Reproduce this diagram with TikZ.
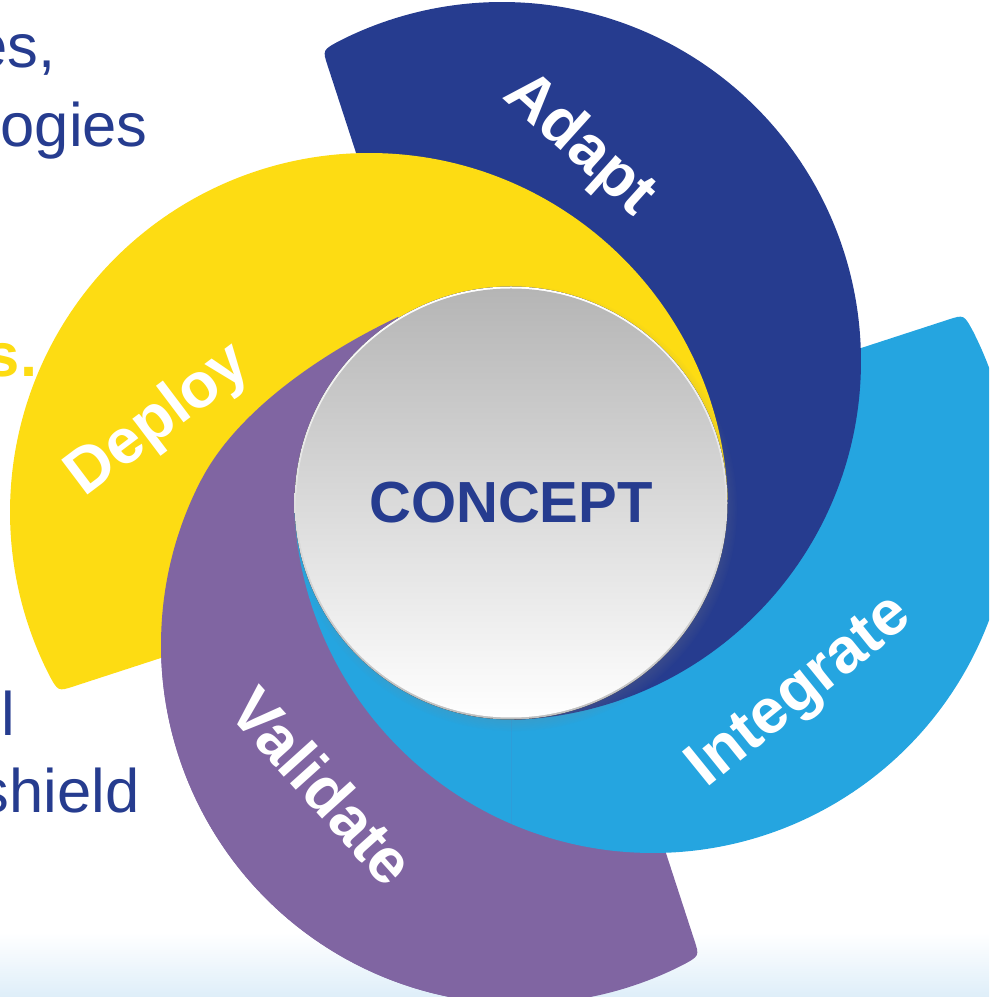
\documentclass[tikz,border=0pt]{standalone}
\usepackage{fontspec}
\setmainfont{Liberation Sans}
\usetikzlibrary{shadows}

\definecolor{adaptblue}{RGB}{38,60,143}
\definecolor{integrateblue}{RGB}{37,165,224}
\definecolor{validatepurple}{RGB}{128,101,162}
\definecolor{deployyellow}{RGB}{253,220,19}
\definecolor{haze}{RGB}{222,238,249}

% one swirl blade: drawn for the top one, rotated for the others
\newcommand{\blade}[2]{%
	\fill[#2, rotate=#1] (0.035,-2.168) arc[start angle=-88, end angle=117, radius=3.59]
	.. controls (-1.885,4.529) .. (-1.832,4.368) -- (-0.41,0) -- cycle;}

\begin{document}
\begin{tikzpicture}[
		bladetext/.style={text=white, font=\bfseries\fontsize{18}{20}\selectfont, inner sep=0pt},
		sidetext/.style={text=adaptblue, font=\fontsize{17.5}{20}\selectfont, inner sep=0pt}]
	\useasboundingbox (-5.11,-4.94) rectangle (4.78,5.03);
	\clip (-5.11,-4.94) rectangle (4.78,5.03);
	\shade[top color=white, bottom color=haze] (-5.11,-4.94) rectangle (4.78,-4.3);

	% each blade lies on top of the one before it
	\foreach \ang/\col in {180/validatepurple, -90/integrateblue, 0/adaptblue, 90/deployyellow} {
			\blade{\ang}{\col}
		}
	% left half: purple over yellow, light blue over purple
	\begin{scope}
		\clip (0,-5.1) -- (0,0) -- (-1.13,1.86) .. controls (-1.85,1.52) and (-2.73,0.94) .. (-3.098,0.23)
		-- (-5.2,0.23) -- (-5.2,-5.1) -- cycle;
		\foreach \ang/\col in {180/validatepurple, -90/integrateblue} {
				\blade{\ang}{\col}
			}
	\end{scope}

	% centre disc
	\fill[circular drop shadow={shadow xshift=0.03cm, shadow yshift=-0.05cm, opacity=0.5, shadow scale=1.03},
		top color=white, bottom color=black!25] (0,0) circle (2.165);
	\node[circle, minimum size=4.29cm, inner sep=0pt, top color=black!29, middle color=black!21, bottom color=white,
		text=adaptblue, font=\bfseries\fontsize{16.5}{18}\selectfont] (concept) at (0,0) {CONCEPT};

	\node[bladetext, rotate=-42] (adapt) at (0.68,3.58) {Adapt};
	\node[bladetext, rotate=39] (integrate) at (2.90,-1.90) {Integrate};
	\node[bladetext, rotate=-48] (validate) at (-1.88,-2.83) {Validate};
	\node[bladetext, rotate=37] (deploy) at (-3.52,0.82) {Deploy};

	% text running in from the left
	\node[sidetext, anchor=base east] (es) at (-4.55,4.35) {es,};
	\node[sidetext, anchor=base west] (ogies) at (-5.11,3.56) {ogies};
	\node[sidetext, anchor=base east, text=deployyellow, font=\bfseries\fontsize{17.5}{20}\selectfont] (sdot) at (-4.73,1.26) {s.};
	\node[sidetext, anchor=base west] (ell) at (-5.10,-2.32) {l};
	\node[sidetext, anchor=base east] (shield) at (-3.71,-3.09) {shield};
\end{tikzpicture}
\end{document}
